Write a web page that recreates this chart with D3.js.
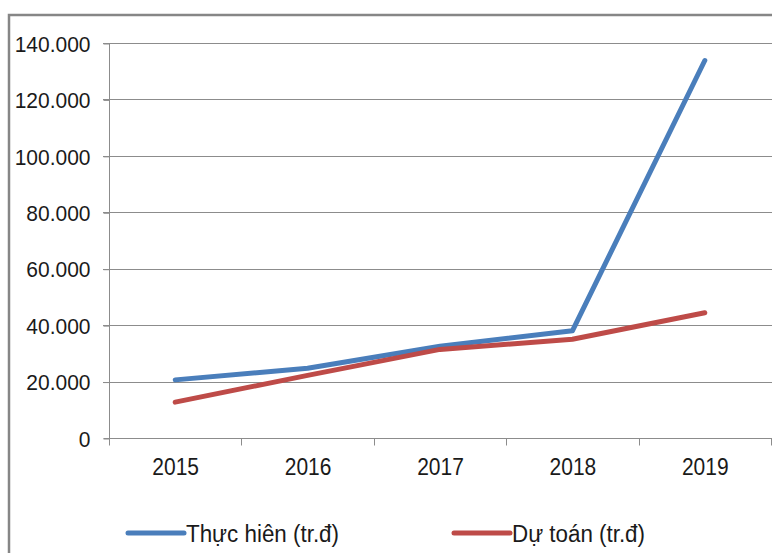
<!DOCTYPE html>
<html><head><meta charset="utf-8">
<script src="https://cdn.jsdelivr.net/npm/d3@7"></script>
<style>html,body{margin:0;padding:0;background:#fff;}svg{display:block;}</style>
</head><body>
<script>
const years = ["2015","2016","2017","2018","2019"];
const thucHien = [20600, 24700, 32500, 38000, 133800];
const duToan = [12700, 22200, 31400, 35000, 44400];
const yTicks = [0, 20000, 40000, 60000, 80000, 100000, 120000, 140000];
const seriesNames = ["Thực hiên (tr.đ)", "Dự toán (tr.đ)"];
const colors = ["#4A7EBB", "#BE4B48"];

const W = 772, H = 553;
const FONT = "'Liberation Sans', Arial, sans-serif";
const svg = d3.select("body").append("svg").attr("width", W).attr("height", H);

// outer frame (right and bottom edges outside the view)
svg.append("path").attr("d", "M9,560 L9,15 L780,15")
  .attr("fill", "none").attr("stroke", "#868686").attr("stroke-width", 2.5);

const x = d3.scaleBand().domain(years).range([109, 771]);
const y = d3.scaleLinear().domain([0, 140000]).range([438, 43]);

const fmt = v => d3.format(",")(v).replace(/,/g, ".");

// gridlines
svg.append("g").selectAll("line").data(yTicks.filter(d => d > 0)).join("line")
  .attr("x1", 103).attr("x2", 772)
  .attr("y1", d => Math.round(y(d)) + 0.5).attr("y2", d => Math.round(y(d)) + 0.5)
  .attr("stroke", "#8c8c8c").attr("stroke-width", 1);

// y axis
const yAxis = d3.axisLeft(y).tickValues(yTicks).tickFormat(fmt).tickSize(6).tickPadding(13);
const gy = svg.append("g").attr("transform", "translate(109.5,0.5)").call(yAxis);
gy.select(".domain").attr("stroke", "#8c8c8c").attr("d", "M0,43V438");
gy.selectAll(".tick line").attr("stroke", "#8c8c8c");
gy.selectAll(".tick text").attr("font-family", FONT)
  .attr("font-size", 21).attr("fill", "#1a1a1a").attr("dy", "0.34em")
  .attr("x", -19).attr("transform", "scale(1,1.08)");

// x axis
const gx = svg.append("g").attr("transform", "translate(0.5,438.5)");
gx.append("line").attr("x1", 103).attr("x2", 772).attr("stroke", "#8c8c8c");
const bounds = years.map(d => x(d)).concat([x.range()[1]]);
gx.selectAll("line.tk").data(bounds).join("line").attr("class", "tk")
  .attr("x1", d => Math.round(d)).attr("x2", d => Math.round(d)).attr("y1", 0).attr("y2", 7)
  .attr("stroke", "#8c8c8c");
gx.selectAll("text").data(years).join("text")
  .attr("transform", d => `translate(${x(d) + x.bandwidth() / 2},36) scale(1,1.15)`)
  .attr("text-anchor", "middle")
  .attr("font-family", FONT)
  .attr("font-size", 21).attr("fill", "#1a1a1a").text(d => d);

// lines
const line = d3.line().x((d, i) => x(years[i]) + x.bandwidth() / 2).y(d => y(d));
[thucHien, duToan].forEach((s, i) => {
  svg.append("path").datum(s).attr("d", line)
    .attr("fill", "none").attr("stroke", colors[i]).attr("stroke-width", 5)
    .attr("stroke-linecap", "round").attr("stroke-linejoin", "round");
});

// legend
const legX = [128, 454];
const legLen = [153, 133];
seriesNames.forEach((n, i) => {
  const g = svg.append("g").attr("transform", `translate(${legX[i]},533)`);
  g.append("line").attr("x1", 0).attr("x2", 56).attr("stroke", colors[i])
    .attr("stroke-width", 5).attr("stroke-linecap", "round");
  g.append("text").attr("transform", "translate(58,9) scale(1,1.1)")
    .attr("font-family", FONT)
    .attr("textLength", legLen[i]).attr("lengthAdjust", "spacingAndGlyphs")
    .attr("font-size", 22).attr("fill", "#1a1a1a").text(n);
});
</script>
</body></html>
